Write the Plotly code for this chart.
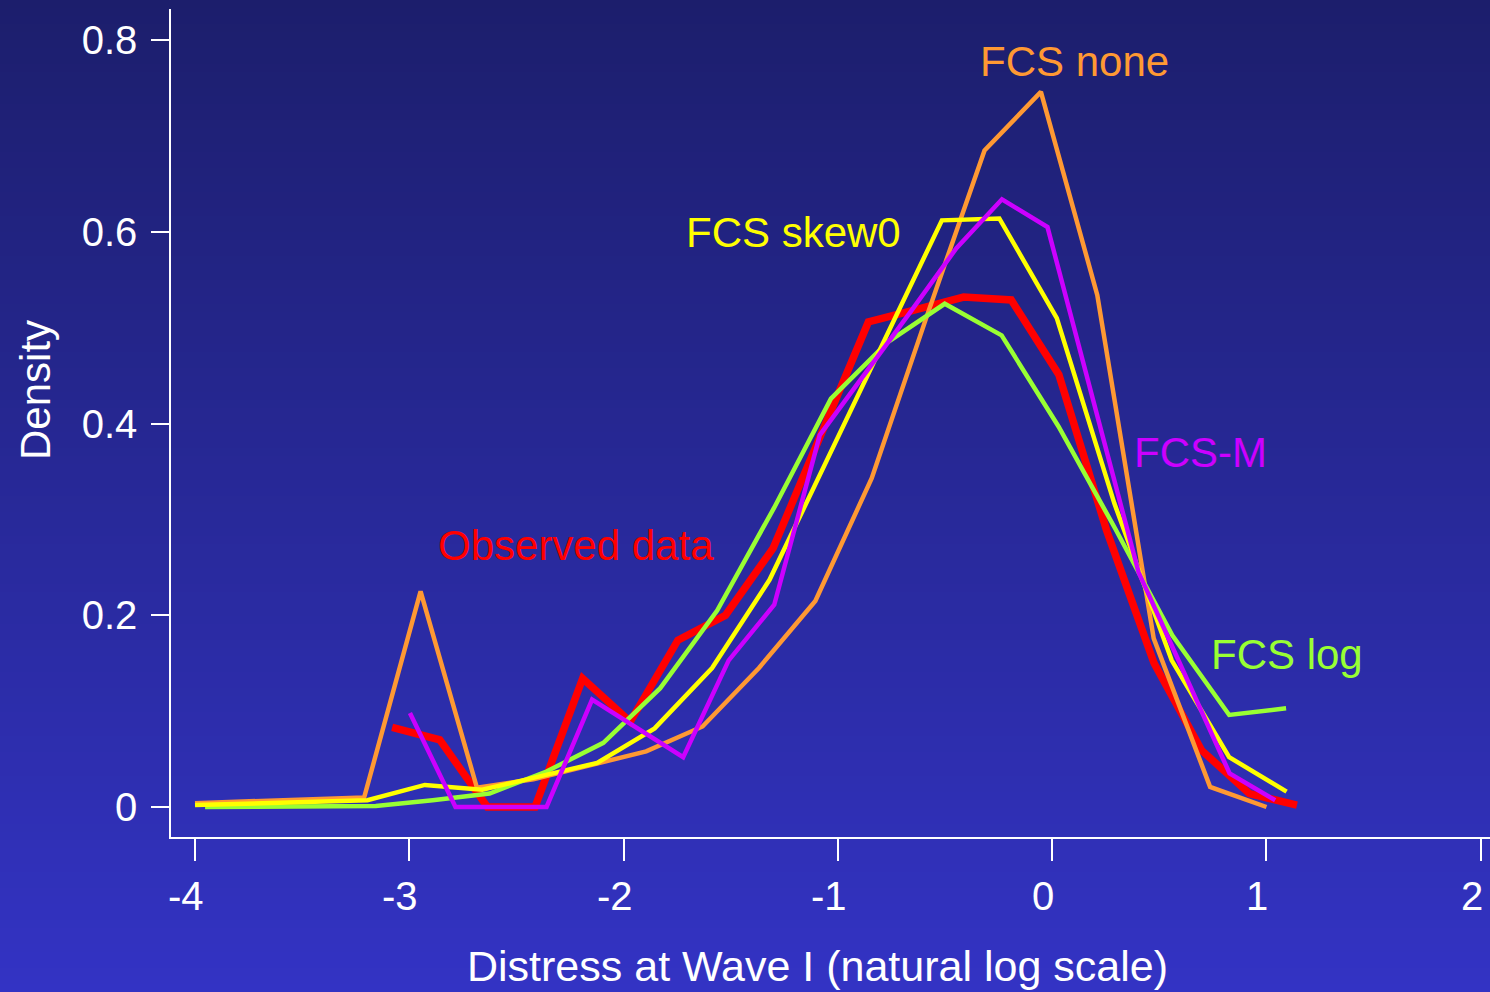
import plotly.graph_objects as go

# ---------------- data ----------------
x_observed = [-3.080 + i * 2 / 9 for i in range(20)]
y_observed = [0.083, 0.070, 0.000, 0.000, 0.134, 0.089, 0.174, 0.200, 0.270, 0.390,
              0.506, 0.519, 0.532, 0.529, 0.451, 0.289, 0.150, 0.059, 0.014, 0.002]

x_none = [-4.0 + i * 5 / 19 for i in range(20)]
y_none = [0.004, 0.006, 0.008, 0.010, 0.225, 0.020, 0.029, 0.043, 0.058, 0.084,
          0.145, 0.215, 0.343, 0.516, 0.685, 0.746, 0.534, 0.176, 0.021, 0.000]

x_log = [-3.953 + i * 0.2655 for i in range(20)]
y_log = [0.000, 0.000, 0.000, 0.001, 0.007, 0.014, 0.037, 0.067, 0.124, 0.205,
         0.312, 0.426, 0.485, 0.525, 0.492, 0.397, 0.290, 0.179, 0.096, 0.103]

x_skew0 = [-4.0 + i * 0.2681 for i in range(20)]
y_skew0 = [0.002, 0.004, 0.005, 0.007, 0.023, 0.018, 0.032, 0.046, 0.082, 0.145,
           0.237, 0.362, 0.488, 0.612, 0.614, 0.510, 0.317, 0.153, 0.052, 0.016]

x_fcsm = [-2.997 + i * 0.2125 for i in range(20)]
y_fcsm = [0.098, 0.000, 0.000, 0.000, 0.112, 0.082, 0.052, 0.153, 0.211, 0.388,
          0.452, 0.517, 0.583, 0.634, 0.605, 0.425, 0.245, 0.140, 0.035, 0.007]

x_ticks = [-4, -3, -2, -1, 0, 1, 2]
x_ticklabels = ["-4", "-3", "-2", "-1", "0", "1", "2"]
y_ticks = [0, 0.2, 0.4, 0.6, 0.8]
y_ticklabels = ["0", "0.2", "0.4", "0.6", "0.8"]

labels = ["Observed data", "FCS none", "FCS skew0", "FCS-M", "FCS log"]
label_x = [-2.222, 0.102, -1.205, 0.694, 1.096]
label_y = [0.273, 0.778, 0.599, 0.370, 0.159]

x_title = "Distress at Wave I (natural log scale)"
y_title = "Density"

# ---------------- style ----------------
FONT = "Liberation Sans, Arial, Helvetica, sans-serif"
C_RED = "#ff0000"
C_ORANGE = "#ff9933"
C_YELLOW = "#ffff00"
C_GREEN = "#99ff33"
C_PURPLE = "#cc00ff"
label_colors = [C_RED, C_ORANGE, C_YELLOW, C_PURPLE, C_GREEN]

W, H = 1490, 992
ML, MR, MT, MB = 171, 0, 9, 155
plot_h = H - MT - MB
plot_w = W - ML - MR

fig = go.Figure()

series = [
    (x_observed, y_observed, C_RED, 7.5),
    (x_none, y_none, C_ORANGE, 4.5),
    (x_log, y_log, C_GREEN, 4.5),
    (x_skew0, y_skew0, C_YELLOW, 4.5),
    (x_fcsm, y_fcsm, C_PURPLE, 4.5),
]
for xs, ys, col, w in series:
    fig.add_trace(go.Scatter(x=xs, y=ys, mode="lines",
                             line=dict(color=col, width=w),
                             showlegend=False, hoverinfo="skip"))

# background vertical gradient built from thin strips (paper coords)
top_rgb = (28, 30, 108)
bot_rgb = (51, 51, 196)
n_strips = 124
shapes = []
for k in range(n_strips):
    py0 = H * k / n_strips
    py1 = H * (k + 1) / n_strips + 1
    t = (k + 0.5) / n_strips
    r = round(top_rgb[0] + (bot_rgb[0] - top_rgb[0]) * t)
    g = round(top_rgb[1] + (bot_rgb[1] - top_rgb[1]) * t)
    b = round(top_rgb[2] + (bot_rgb[2] - top_rgb[2]) * t)
    y0 = (H - MB - py1) / plot_h
    y1 = (H - MB - py0) / plot_h
    shapes.append(dict(type="rect", xref="paper", yref="paper",
                       x0=-0.2, x1=1.1, y0=y0, y1=y1,
                       fillcolor=f"rgb({r},{g},{b})", line=dict(width=0),
                       layer="below"))

annotations = []
for txt, lx, ly, col in zip(labels, label_x, label_y, label_colors):
    annotations.append(dict(x=lx, y=ly, xref="x", yref="y", text=txt,
                            showarrow=False, xanchor="center", yanchor="middle",
                            font=dict(family=FONT, size=42, color=col)))

# x tick labels (slightly left of their ticks, as in the original)
for tv, tt in zip(x_ticks, x_ticklabels):
    annotations.append(dict(x=tv, y=(H - MB - 896) / plot_h, xref="x", yref="paper",
                            text=tt, showarrow=False, xanchor="center",
                            yanchor="middle", xshift=-9,
                            font=dict(family=FONT, size=40, color="white")))

# axis titles
annotations.append(dict(x=(817 - ML) / plot_w, y=(H - MB - 966) / plot_h,
                        xref="paper", yref="paper", text=x_title, showarrow=False,
                        xanchor="center", yanchor="middle",
                        font=dict(family=FONT, size=43, color="white")))
annotations.append(dict(x=(35 - ML) / plot_w, y=(H - MB - 390) / plot_h,
                        xref="paper", yref="paper", text=y_title, showarrow=False,
                        textangle=-90, xanchor="center", yanchor="middle",
                        font=dict(family=FONT, size=42, color="white")))

fig.update_layout(
    width=W, height=H,
    margin=dict(l=ML, r=MR, t=MT, b=MB, pad=0),
    paper_bgcolor="rgb(40,40,150)",
    plot_bgcolor="rgba(0,0,0,0)",
    shapes=shapes,
    annotations=annotations,
    showlegend=False,
    xaxis=dict(range=[-4.112, 2.043], tickmode="array", tickvals=x_ticks,
               ticktext=x_ticklabels, ticks="outside", ticklen=22, tickwidth=1.5,
               tickcolor="white", showline=True, linecolor="white", linewidth=1.5,
               showgrid=False, zeroline=False, showticklabels=False),
    yaxis=dict(range=[-0.0313, 0.8325], tickmode="array", tickvals=y_ticks,
               ticktext=y_ticklabels, ticks="outside", ticklen=18, tickwidth=1.5,
               tickcolor="white", showline=True, linecolor="white", linewidth=1.5,
               showgrid=False, zeroline=False,
               tickfont=dict(family=FONT, size=40, color="white"),
               ticklabelstandoff=6),
)

fig.write_html("out.html",
               config={"displayModeBar": False},
               post_script="document.body.style.margin='0px';"
                           "document.body.style.overflow='hidden';")
